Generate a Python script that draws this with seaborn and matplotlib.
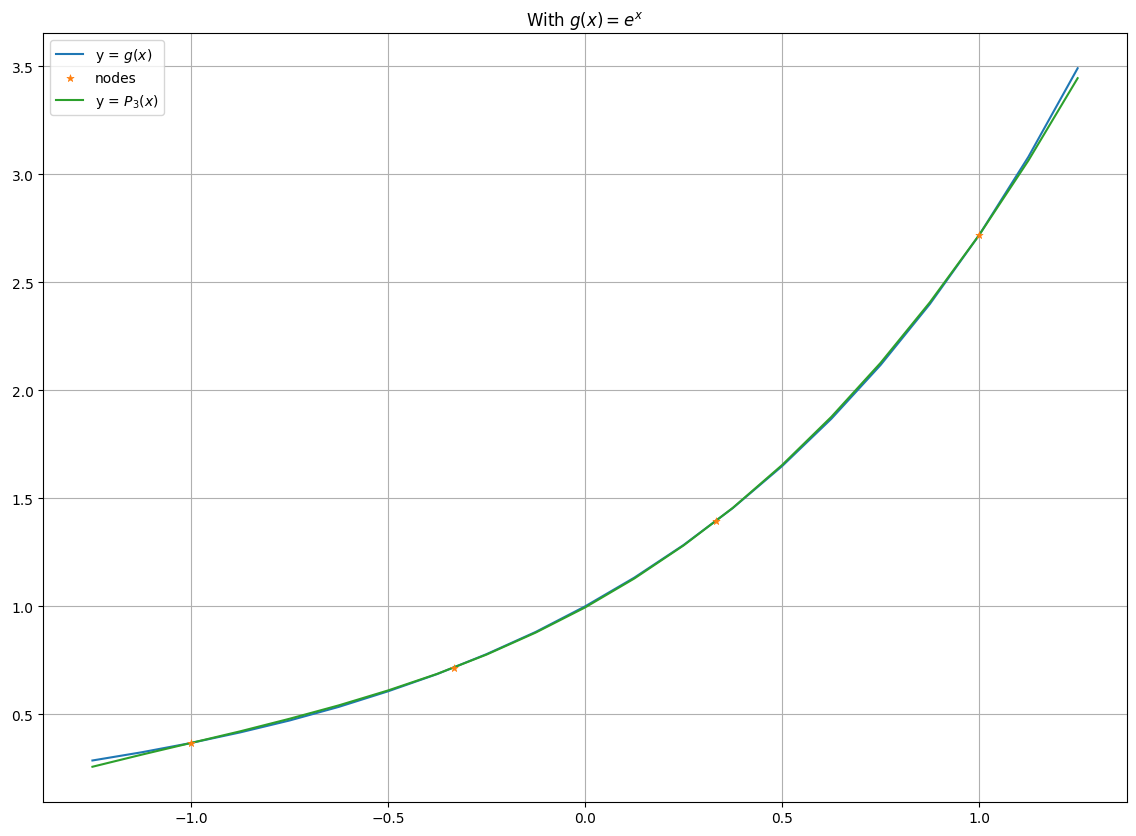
import matplotlib
matplotlib.use("Agg")
import matplotlib.pyplot as plt
import seaborn as sns

# values
x_vals = [-1.25, -1.125, -1.0, -0.875, -0.75, -0.625, -0.5, -0.375, -0.25, -0.125, 0.0,
          0.125, 0.25, 0.375, 0.5, 0.625, 0.75, 0.875, 1.0, 1.125, 1.25]
g_vals = [0.287, 0.325, 0.368, 0.417, 0.472, 0.535, 0.607, 0.687, 0.779, 0.882, 1.000,
          1.133, 1.284, 1.455, 1.649, 1.868, 2.117, 2.399, 2.718, 3.080, 3.490]
p3_vals = [0.258, 0.314, 0.368, 0.422, 0.480, 0.542, 0.611, 0.688, 0.777, 0.879, 0.995,
           1.129, 1.282, 1.456, 1.654, 1.877, 2.127, 2.407, 2.718, 3.063, 3.444]
node_x = [-1.0, -1 / 3, 1 / 3, 1.0]
node_y = [0.368, 0.717, 1.396, 2.718]

fig, ax = plt.subplots(figsize=(11.36, 8.37), dpi=100)

sns.lineplot(x=x_vals, y=g_vals, ax=ax, color="C0", label="y = $g(x)$")
sns.scatterplot(x=node_x, y=node_y, ax=ax, color="C1", marker="*", s=30,
                edgecolor="C1", label="nodes", zorder=3)
sns.lineplot(x=x_vals, y=p3_vals, ax=ax, color="C2", label="y = $P_3(x)$")

ax.set_title("With $g(x) = e^x$")
ax.grid(True)
ax.legend(loc="upper left")

plt.subplots_adjust(left=0.038, right=0.992, top=0.959, bottom=0.041)
plt.savefig("out.png")
